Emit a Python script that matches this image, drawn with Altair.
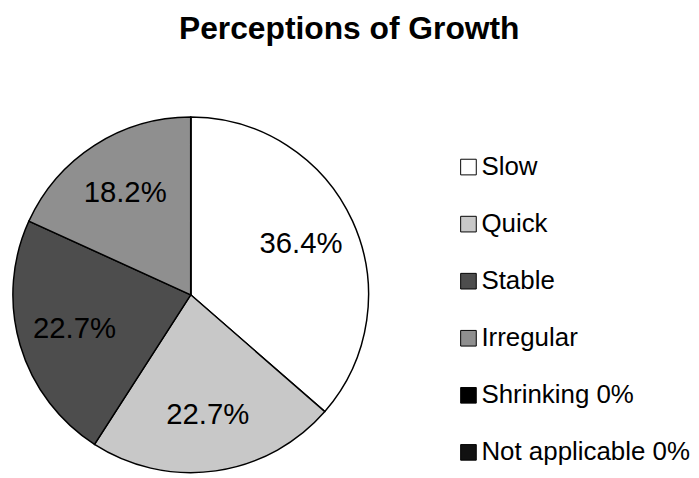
import altair as alt
import pandas as pd

categories = ["Slow", "Quick", "Stable", "Irregular", "Shrinking 0%", "Not applicable 0%"]
values = [36.4, 22.7, 22.7, 18.2, 0.0, 0.0]
colors = ["#ffffff", "#c8c8c8", "#4d4d4d", "#8f8f8f", "#000000", "#111111"]

df = pd.DataFrame({
    "category": categories,
    "value": values,
    "idx": list(range(len(categories))),
})

FONT = "Liberation Sans"

base = alt.Chart(df).encode(
    theta=alt.Theta("value:Q", stack=True),
    order=alt.Order("idx:Q", sort="ascending"),
)

pie = base.mark_arc(outerRadius=182, stroke="black", strokeWidth=1.5).encode(
    color=alt.Color(
        "category:N",
        scale=alt.Scale(domain=categories, range=colors),
        sort=categories,
        legend=alt.Legend(
            title=None,
            orient="none",
            legendX=458,
            legendY=6,
            symbolType="square",
            symbolSize=256,
            symbolStrokeColor="black",
            symbolStrokeWidth=1,
            labelFontSize=26.5,
            labelFont=FONT,
            labelColor="black",
            labelOffset=0,
            rowPadding=31.4,
            padding=0,
            labelLimit=400,
        ),
    ),
)

labels = base.transform_filter("datum.value > 0").transform_calculate(
    txt="format(datum.value, '.1f') + '%'"
).mark_text(radius=124, fontSize=30, font=FONT, color="black").encode(
    text="txt:N"
)

chart = (
    alt.layer(pie, labels)
    .properties(
        width=374,
        height=300,
        padding=0,
        title=alt.TitleParams(
            "Perceptions of Growth",
            fontSize=32.5,
            font=FONT,
            fontWeight="bold",
            color="black",
            anchor="start",
            dx=175,
            offset=70,
        ),
    )
    .configure_view(stroke=None)
    .configure(background="white")
)

chart.save("out.html", embed_options={"renderer": "svg", "actions": False})
